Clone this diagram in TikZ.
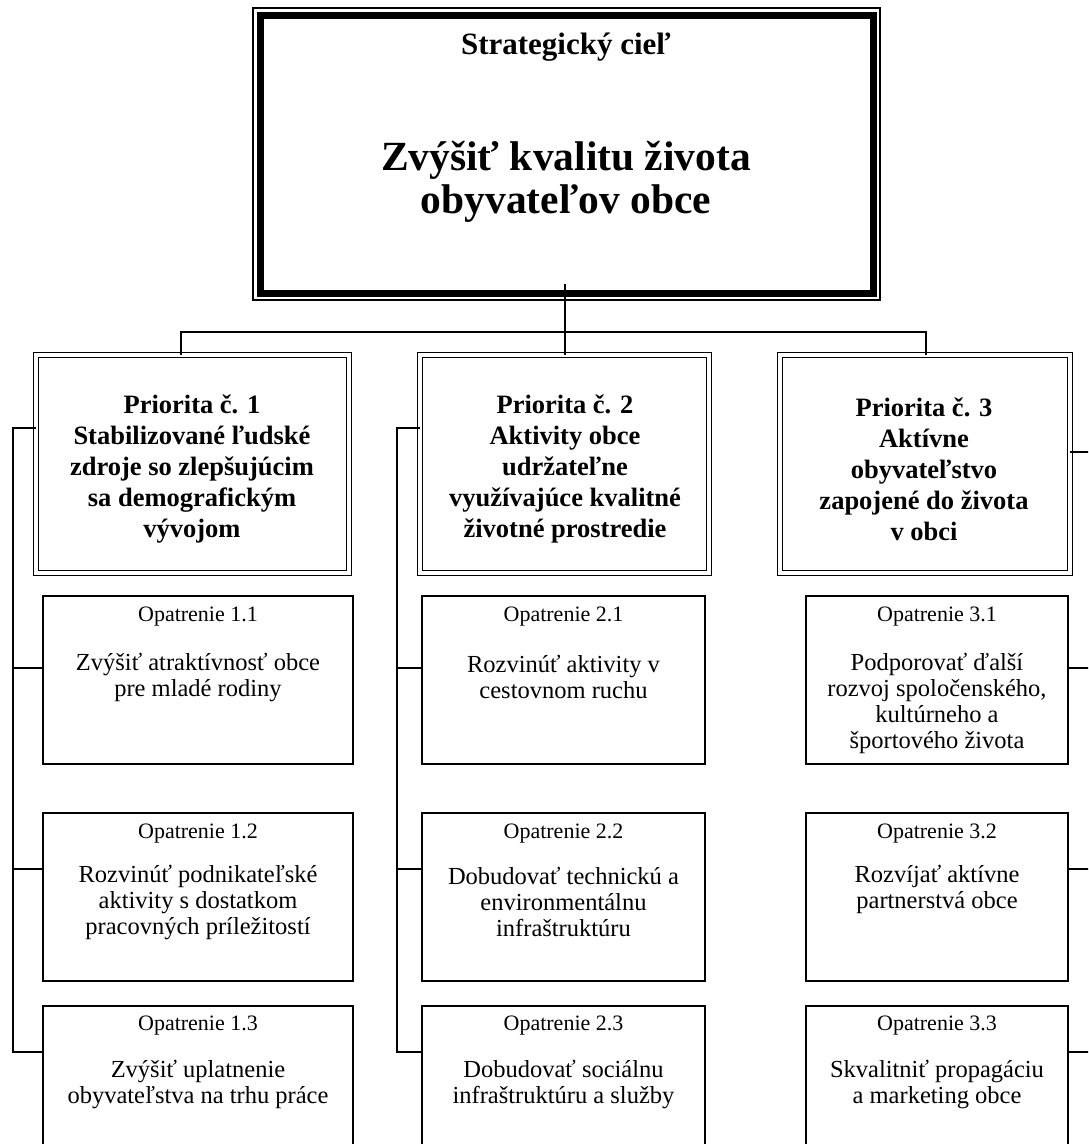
\documentclass[tikz,border=0pt]{standalone}
\usepackage{fontspec}
\setmainfont{Liberation Serif}
\usetikzlibrary{calc}
\begin{document}
\begin{tikzpicture}[x=1pt,y=-1pt,
  every node/.style={outer sep=0pt},
  mbox/.style={draw, line width=1.6pt, anchor=north west, inner sep=0pt},
  pbox/.style={draw, double, double distance=3.5pt, line width=1.6pt, anchor=north west, inner sep=0pt},
  conn/.style={line width=1.6pt},
  tsmall/.style={font=\fontsize{41.5}{43}\selectfont\bfseries, align=center, inner sep=0pt},
  thead/.style={font=\fontsize{31}{34}\selectfont\bfseries, align=center, inner sep=0pt},
  ptext/.style={font=\fontsize{26.5}{31}\selectfont\bfseries, align=center, inner sep=0pt},
  ohead/.style={font=\fontsize{22}{24}\selectfont, align=center, inner sep=0pt},
  otext/.style={font=\fontsize{24.5}{26}\selectfont, align=center, inner sep=0pt}
]
\clip (0,0) rectangle (1088,1144);
\fill[white] (0,0) rectangle (1088,1144);

% top box
\node[draw, line width=1.6pt, anchor=north west, inner sep=0pt, minimum width=627pt, minimum height=292pt] (top) at (253,8) {};
\draw[line width=7pt] ([shift={(7,7)}]top.north west) rectangle ([shift={(-7,-7)}]top.south east);
\node[thead] (toph) at (566,47) {Strategický cieľ};
\node[tsmall] (topt) at (566,182) {Zvýšiť kvalitu života\\obyvateľov obce};

% priority boxes
\node[pbox, minimum width=313pt, minimum height=218pt] (p1) at (36,355) {};
\node[pbox, minimum width=289pt, minimum height=218pt] (p2) at (420,355) {};
\node[pbox, minimum width=290pt, minimum height=218pt] (p3) at (780,355) {};
\node[ptext] (p1t) at (192,469) {Priorita č. 1\\Stabilizované ľudské\\zdroje so zlepšujúcim\\sa demografickým\\vývojom};
\node[ptext] (p2t) at (565,469) {Priorita č. 2\\Aktivity obce\\udržateľne\\využívajúce kvalitné\\životné prostredie};
\node[ptext] (p3t) at (924,469) {Priorita č. 3\\Aktívne\\obyvateľstvo\\zapojené do života\\v obci};

% measure boxes
\node[mbox, minimum width=310pt, minimum height=168pt] (m11) at (43,596) {};
\node[mbox, minimum width=310pt, minimum height=168pt] (m12) at (43,813) {};
\node[mbox, minimum width=310pt, minimum height=170pt] (m13) at (43,1006) {};
\node[mbox, minimum width=283pt, minimum height=168pt] (m21) at (422,596) {};
\node[mbox, minimum width=283pt, minimum height=168pt] (m22) at (422,813) {};
\node[mbox, minimum width=283pt, minimum height=170pt] (m23) at (422,1006) {};
\node[mbox, minimum width=262pt, minimum height=168pt] (m31) at (806,596) {};
\node[mbox, minimum width=262pt, minimum height=168pt] (m32) at (806,813) {};
\node[mbox, minimum width=262pt, minimum height=170pt] (m33) at (806,1006) {};

\node[ohead] (m11h) at (198,617) {Opatrenie 1.1};
\node[otext] (m11t) at (198,677) {Zvýšiť atraktívnosť obce\\pre mladé rodiny};
\node[ohead] (m12h) at (198,834) {Opatrenie 1.2};
\node[otext] (m12t) at (198,902) {Rozvinúť podnikateľské\\aktivity s dostatkom\\pracovných príležitostí};
\node[ohead] (m13h) at (198,1026) {Opatrenie 1.3};
\node[otext] (m13t) at (198,1084) {Zvýšiť uplatnenie\\obyvateľstva na trhu práce};

\node[ohead] (m21h) at (563.5,617) {Opatrenie 2.1};
\node[otext] (m21t) at (563.5,677) {Rozvinúť aktivity v\\cestovnom ruchu};
\node[ohead] (m22h) at (563.5,834) {Opatrenie 2.2};
\node[otext] (m22t) at (563.5,902) {Dobudovať technickú a\\environmentálnu\\infraštruktúru};
\node[ohead] (m23h) at (563.5,1026) {Opatrenie 2.3};
\node[otext] (m23t) at (563.5,1084) {Dobudovať sociálnu\\infraštruktúru a služby};

\node[ohead] (m31h) at (937,617) {Opatrenie 3.1};
\node[otext] (m31t) at (937,703) {Podporovať ďalší\\rozvoj spoločenského,\\kultúrneho a\\športového života};
\node[ohead] (m32h) at (937,834) {Opatrenie 3.2};
\node[otext] (m32t) at (937,889) {Rozvíjať aktívne\\partnerstvá obce};
\node[ohead] (m33h) at (937,1026) {Opatrenie 3.3};
\node[otext] (m33t) at (937,1084) {Skvalitniť propagáciu\\a marketing obce};

% connectors: top to priorities
\coordinate (c0) at (565,284);
\coordinate (bL) at (181,332);
\coordinate (bR) at (926,332);
\draw[conn] (c0) -- (c0 |- p2.north);
\draw[conn] (bL |- p1.north) -- (bL) -- (bR) -- (bR |- p3.north);

% column 1 bus
\coordinate (L1) at (13,428);
\coordinate (L1b) at (13,1052);
\draw[conn] (p1.west |- L1) -- (L1) -- (L1b) -- (m13.west |- L1b);
\draw[conn] (L1 |- 0,668) -- (m11.west |- 0,668);
\draw[conn] (L1 |- 0,869) -- (m12.west |- 0,869);

% column 2 bus
\coordinate (L2) at (397,428);
\coordinate (L2b) at (397,1052);
\draw[conn] (p2.west |- L2) -- (L2) -- (L2b) -- (m23.west |- L2b);
\draw[conn] (L2 |- 0,668) -- (m21.west |- 0,668);
\draw[conn] (L2 |- 0,869) -- (m22.west |- 0,869);

% column 3 bus (beyond right edge)
\coordinate (R3) at (1095,452);
\coordinate (R3b) at (1095,1052);
\draw[conn] (p3.east |- R3) -- (R3) -- (R3b) -- (m33.east |- R3b);
\draw[conn] (R3 |- 0,668) -- (m31.east |- 0,668);
\draw[conn] (R3 |- 0,869) -- (m32.east |- 0,869);
\end{tikzpicture}
\end{document}
